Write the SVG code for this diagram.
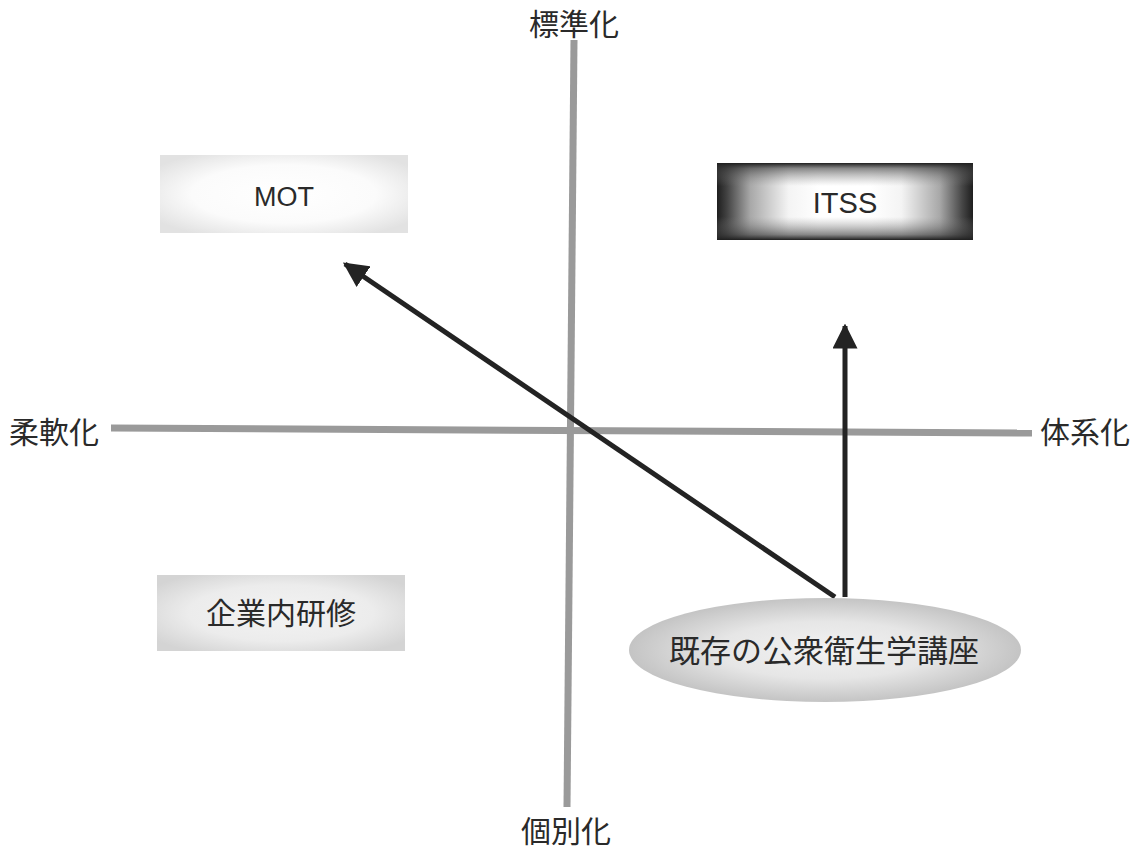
<svg xmlns="http://www.w3.org/2000/svg" width="1143" height="849" viewBox="0 0 1143 849">
<defs>
<style>
.lbl{font-family:"Noto Sans CJK JP","Noto Sans",sans-serif;font-size:30px;fill:#2a2a2a;text-anchor:middle}
.lat{font-family:"Liberation Sans",Arial,sans-serif;font-size:27px;fill:#2a2a2a;text-anchor:middle}
.axis{stroke:#9a9a9a;stroke-width:7;fill:none}
.arr{stroke:#232323;stroke-width:5;fill:none}
</style>
<linearGradient id="gItssH" x1="0" y1="0" x2="1" y2="0">
<stop offset="0" stop-color="#1e1e1e"/>
<stop offset="0.04" stop-color="#444444"/>
<stop offset="0.13" stop-color="#a8a8a8"/>
<stop offset="0.28" stop-color="#f4f4f4"/>
<stop offset="0.4" stop-color="#ffffff"/>
<stop offset="0.6" stop-color="#ffffff"/>
<stop offset="0.72" stop-color="#f4f4f4"/>
<stop offset="0.87" stop-color="#a8a8a8"/>
<stop offset="0.96" stop-color="#444444"/>
<stop offset="1" stop-color="#1e1e1e"/>
</linearGradient>
<linearGradient id="gItssV" x1="0" y1="0" x2="0" y2="1">
<stop offset="0" stop-color="#1e1e1e" stop-opacity="1"/>
<stop offset="0.07" stop-color="#3a3a3a" stop-opacity="0.6"/>
<stop offset="0.3" stop-color="#888888" stop-opacity="0"/>
<stop offset="0.7" stop-color="#888888" stop-opacity="0"/>
<stop offset="0.93" stop-color="#3a3a3a" stop-opacity="0.6"/>
<stop offset="1" stop-color="#1e1e1e" stop-opacity="1"/>
</linearGradient>
<radialGradient id="gMot" cx="0.5" cy="0.5" r="0.62">
<stop offset="0" stop-color="#ffffff"/>
<stop offset="0.6" stop-color="#fbfbfb"/>
<stop offset="1" stop-color="#e2e2e2"/>
</radialGradient>
<radialGradient id="gKig" cx="0.5" cy="0.5" r="0.62">
<stop offset="0" stop-color="#f3f3f3"/>
<stop offset="0.6" stop-color="#ececec"/>
<stop offset="1" stop-color="#d4d4d4"/>
</radialGradient>
<radialGradient id="gEll" cx="0.5" cy="0.5" r="0.5">
<stop offset="0" stop-color="#f2f2f2"/>
<stop offset="0.55" stop-color="#e6e6e6"/>
<stop offset="1" stop-color="#c4c4c4"/>
</radialGradient>
<marker id="ah" viewBox="0 0 10 10" refX="9" refY="5" markerWidth="5" markerHeight="5" orient="auto" markerUnits="strokeWidth">
<path d="M0,0 L10,5 L0,10 z" fill="#232323"/>
</marker>
</defs>
<rect width="1143" height="849" fill="#ffffff"/>
<g id="axes">
<line class="axis" x1="574" y1="40" x2="567" y2="807"/>
<line class="axis" x1="111" y1="428" x2="1032" y2="433"/>
<text class="lbl" x="574" y="35">標準化</text>
<text class="lbl" x="566" y="842">個別化</text>
<text class="lbl" x="54" y="443">柔軟化</text>
<text class="lbl" x="1085" y="443">体系化</text>
</g>
<g id="node-mot">
<rect x="160" y="155" width="248" height="78" fill="url(#gMot)"/>
<text class="lat" x="284" y="206">MOT</text>
</g>
<g id="node-itss">
<rect x="717" y="163" width="256" height="77" fill="url(#gItssH)"/>
<rect x="717" y="163" width="256" height="77" fill="url(#gItssV)"/>
<text class="lat" x="845" y="213" style="font-size:29px">ITSS</text>
</g>
<g id="node-kigyo">
<rect x="157" y="575" width="248" height="76" fill="url(#gKig)"/>
<text class="lbl" x="281" y="624">企業内研修</text>
</g>
<g id="connectors">
<line class="arr" x1="835" y1="597" x2="345" y2="264" marker-end="url(#ah)"/>
<line class="arr" x1="845" y1="597" x2="845" y2="326" marker-end="url(#ah)"/>
</g>
<g id="node-kizon">
<ellipse cx="825" cy="650" rx="196" ry="52" fill="url(#gEll)"/>
<text class="lbl" x="824" y="662" style="font-size:31px">既存の公衆衛生学講座</text>
</g>
</svg>
